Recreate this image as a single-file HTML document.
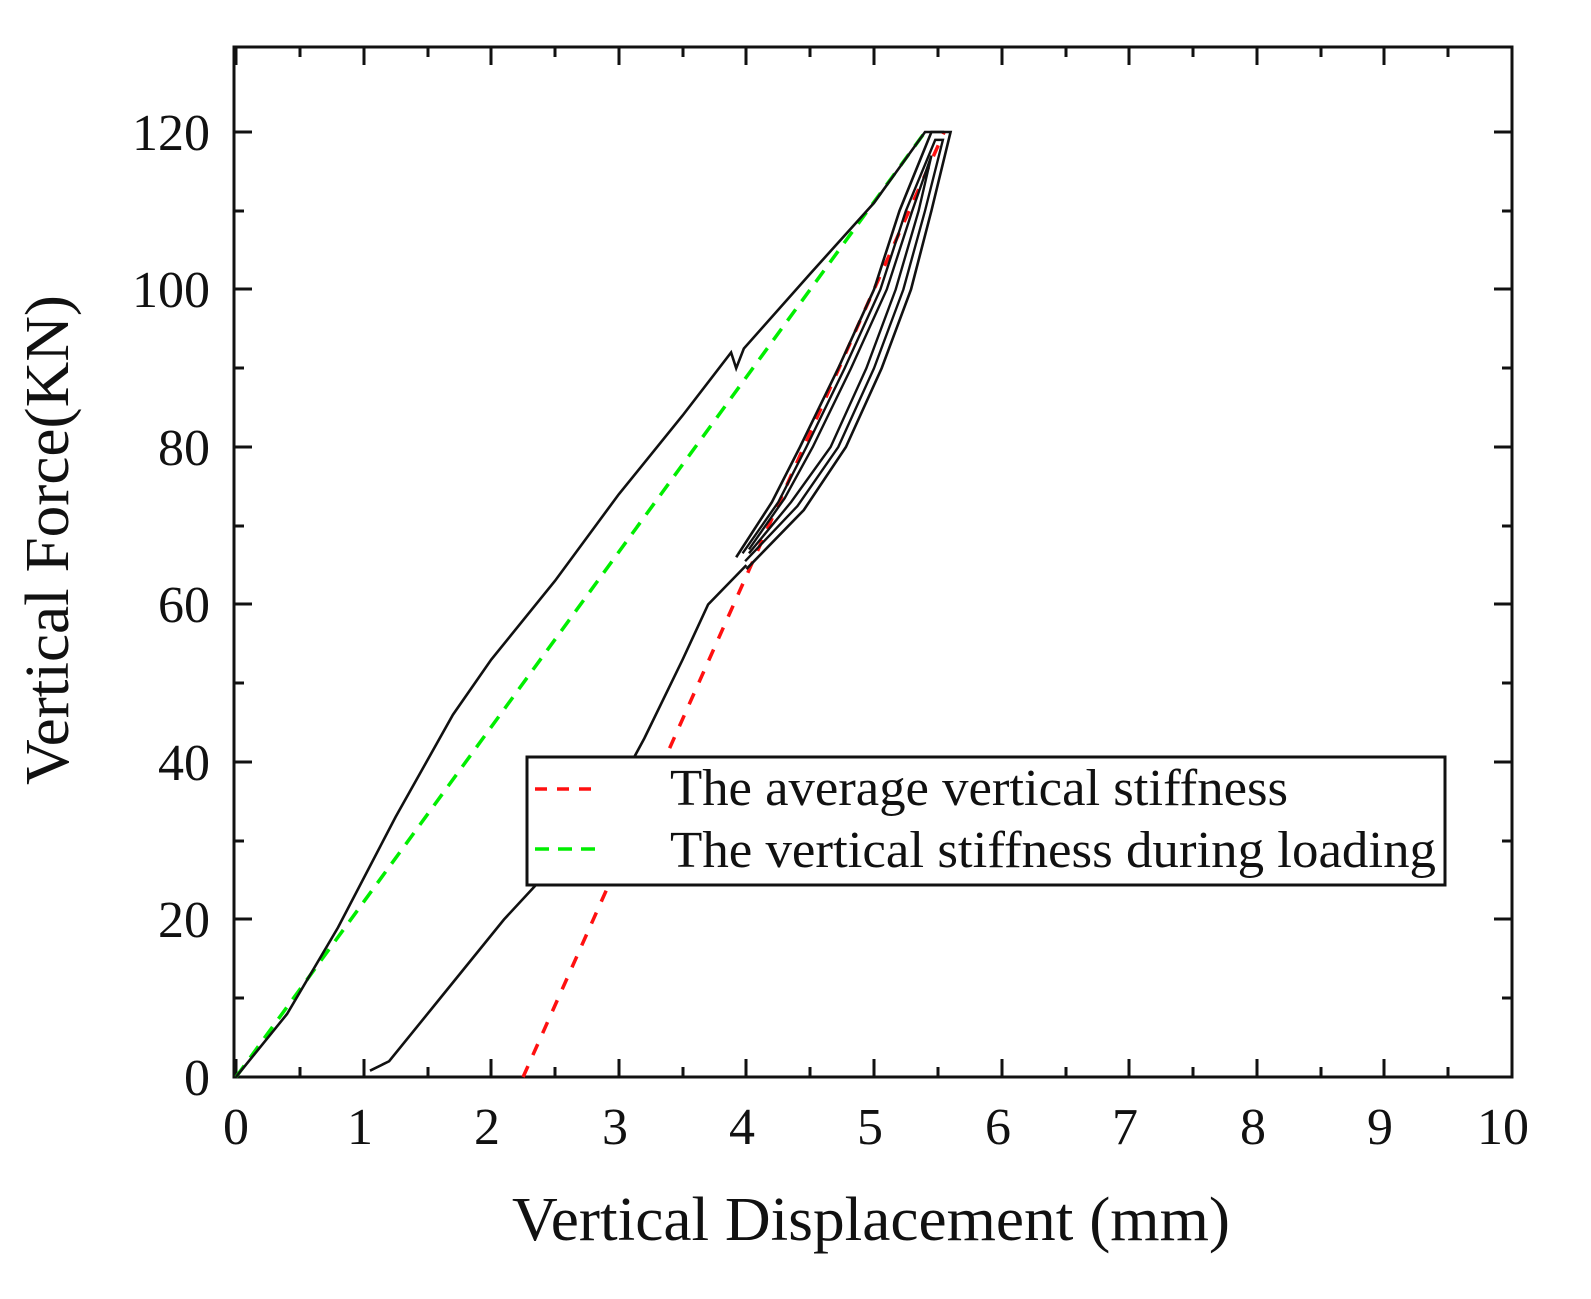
<!DOCTYPE html>
<html><head><meta charset="utf-8"><style>
html,body{margin:0;padding:0;background:#fff}
svg{display:block}
text{font-family:"Liberation Serif",serif;fill:#111}
.s{vector-effect:non-scaling-stroke;fill:none}
</style></head><body>
<svg width="1591" height="1299" viewBox="0 0 1591 1299">
<rect x="234" y="47" width="1278" height="1030" fill="none" stroke="#111" stroke-width="3"/>
<g stroke="#111" stroke-width="3">
<path d="M236 1077v-18M364 1077v-18M491 1077v-18M619 1077v-18M746 1077v-18M874 1077v-18M1002 1077v-18M1129 1077v-18M1257 1077v-18M1384 1077v-18
M236 47v18M364 47v18M491 47v18M619 47v18M746 47v18M874 47v18M1002 47v18M1129 47v18M1257 47v18M1384 47v18"/>
<path d="M300 1077v-10M428 1077v-10M555 1077v-10M683 1077v-10M810 1077v-10M938 1077v-10M1066 1077v-10M1193 1077v-10M1321 1077v-10M1448 1077v-10
M300 47v10M428 47v10M555 47v10M683 47v10M810 47v10M938 47v10M1066 47v10M1193 47v10M1321 47v10M1448 47v10"/>
<path d="M234 919h18M234 762h18M234 604h18M234 447h18M234 289h18M234 132h18
M1512 919h-18M1512 762h-18M1512 604h-18M1512 447h-18M1512 289h-18M1512 132h-18"/>
<path d="M234 998h10M234 841h10M234 683h10M234 526h10M234 368h10M234 211h10
M1512 998h-10M1512 841h-10M1512 683h-10M1512 526h-10M1512 368h-10M1512 211h-10"/>
</g>
<g font-size="52" text-anchor="middle">
<text x="236" y="1144">0</text><text x="360" y="1144">1</text><text x="487" y="1144">2</text><text x="615" y="1144">3</text><text x="742" y="1144">4</text><text x="870" y="1144">5</text><text x="998" y="1144">6</text><text x="1125" y="1144">7</text><text x="1253" y="1144">8</text><text x="1380" y="1144">9</text><text x="1503" y="1144">10</text>
</g>
<g font-size="52" text-anchor="end">
<text x="210" y="1095">0</text><text x="210" y="937">20</text><text x="210" y="780">40</text><text x="210" y="622">60</text><text x="210" y="465">80</text><text x="210" y="307">100</text><text x="210" y="150">120</text>
</g>
<text x="512" y="1240" font-size="62" textLength="718" lengthAdjust="spacingAndGlyphs">Vertical Displacement (mm)</text>
<text transform="translate(68,785) rotate(-90)" font-size="62" textLength="490" lengthAdjust="spacingAndGlyphs">Vertical Force(KN)</text>
<g transform="translate(236,1077) scale(127.6,-7.875)">
<polyline class="s" stroke="#00ee00" stroke-width="3.5" stroke-dasharray="14,10" points="0,0 5.4,120"/>
<polyline class="s" stroke="#ff1010" stroke-width="3.5" stroke-dasharray="12,12" points="2.25,0 5.55,120"/>
<polyline class="s" stroke="#111" stroke-width="2.6" points="0,0 0.4,8 0.8,19 1.25,33 1.7,46 2.0,53 2.5,63 3,74 3.5,84 3.88,92 3.92,90 3.98,92.5 4.5,102 5,111 5.4,120 5.55,120"/>
<polyline class="s" stroke="#111" stroke-width="2.6" points="4.0,65 3.7,60 3.5,53 3.2,43 3.0,37 2.5,27 2.1,20 1.6,10 1.2,2 1.05,0.8"/>
<polyline class="s" stroke="#111" stroke-width="2.6" points="3.92,66 4.2,73 4.42,80 4.72,90 5.0,100 5.2,110 5.45,120 5.6,120 5.45,110 5.29,100 5.06,90 4.78,80 4.45,72 4.0,64.5"/>
<polyline class="s" stroke="#111" stroke-width="2.4" points="3.97,66.5 4.25,73 4.47,80 4.77,90 5.05,100 5.25,110 5.48,119 5.54,119 5.4,110 5.23,100 5.0,90 4.72,80 4.4,72.5 3.99,65.5"/>
<polyline class="s" stroke="#111" stroke-width="2.4" points="4.02,67 4.3,73.5 4.52,80 4.82,90 5.1,100 5.3,110 5.45,117 5.35,110 5.17,100 4.94,90 4.66,80 4.35,73 4.02,66.5"/>
</g>
<rect x="527" y="757" width="918" height="128" fill="#fff" stroke="#111" stroke-width="3"/>
<line x1="535" y1="789" x2="600" y2="789" stroke="#ff1010" stroke-width="3.5" stroke-dasharray="12,10"/>
<line x1="535" y1="849" x2="600" y2="849" stroke="#00ee00" stroke-width="3.5" stroke-dasharray="14,9"/>
<text x="670" y="805" font-size="52" textLength="618" lengthAdjust="spacingAndGlyphs">The average vertical stiffness</text>
<text x="670" y="867" font-size="52" textLength="766" lengthAdjust="spacingAndGlyphs">The vertical stiffness during loading</text>
</svg>
</body></html>
